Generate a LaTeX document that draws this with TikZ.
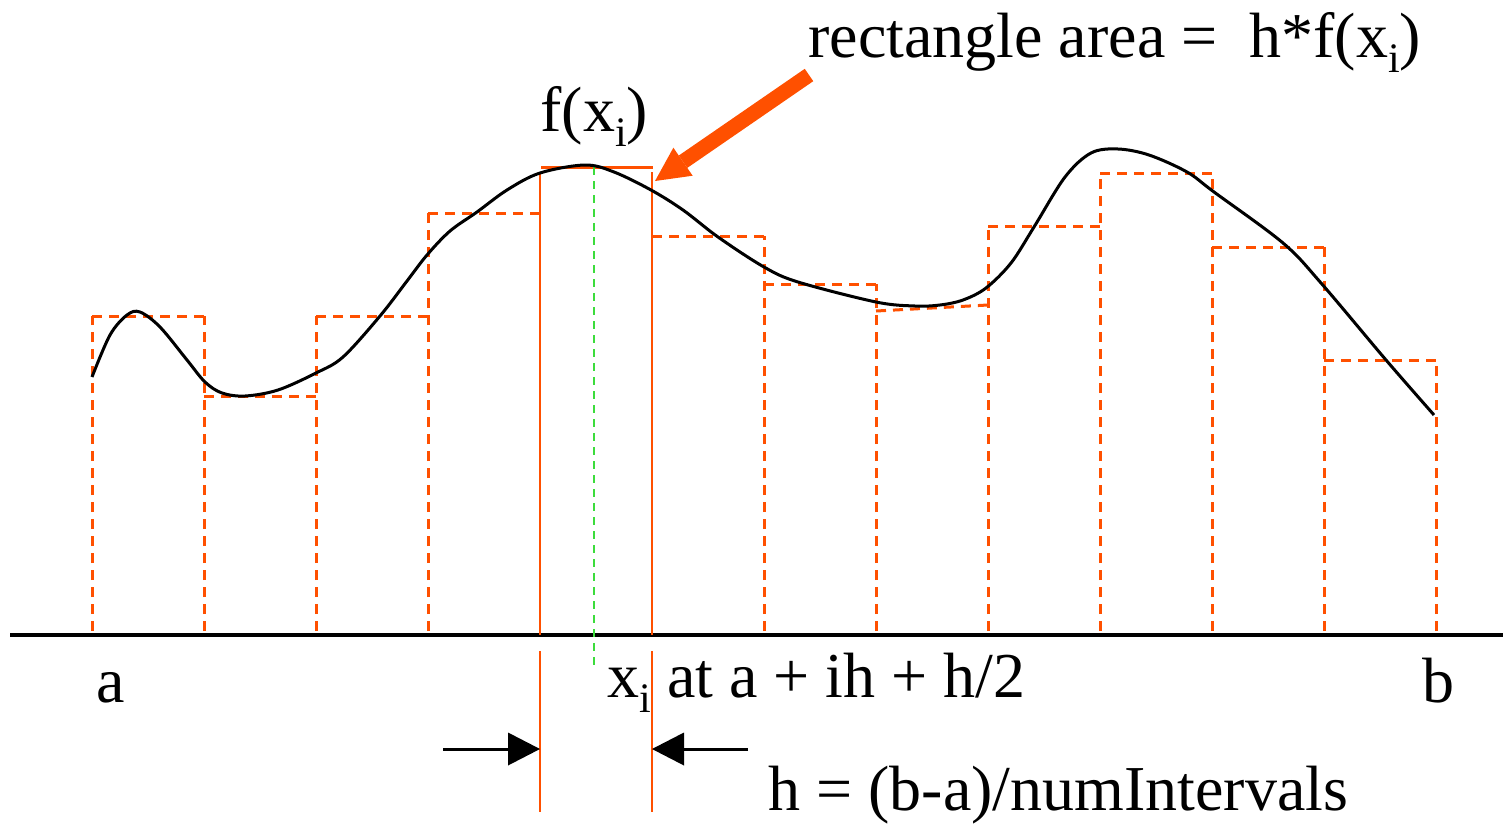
\documentclass[tikz,border=0pt]{standalone}
\usepackage{fontspec}
\setmainfont{Liberation Serif}
\usetikzlibrary{arrows.meta}
\definecolor{orng}{RGB}{255,80,0}
\definecolor{grn}{RGB}{60,220,60}
\newcommand\subi{\raisebox{-7.5pt}{\fontsize{21}{21}\selectfont i}}
\tikzset{
  lbl/.style={inner sep=0pt, font=\fontsize{32}{38}\selectfont},
  dashrect/.style={draw=orng, line width=1.5pt, dash pattern=on 5pt off 3.5pt},
  solidrect/.style={draw=orng, line width=1.1pt},
  midline/.style={draw=grn, line width=1pt, dash pattern=on 4pt off 3pt},
  curve/.style={draw=black, line width=1.5pt},
  axis/.style={draw=black, line width=1.6pt},
  bigarrow/.style={draw=orng, line width=7.5pt, -{Triangle[length=17pt,width=17pt,line width=0pt]}},
  harrow/.style={draw=black, line width=1.5pt, -{Triangle[length=16pt,width=16.5pt,line width=0pt]}}
}
\begin{document}
\begin{tikzpicture}[x=0.5pt,y=-0.5pt]
\useasboundingbox (0,0) rectangle (1503,825);
% axis
\coordinate (axL) at (10,635);
\coordinate (axR) at (1503,635);
\draw[axis] (axL) -- (axR);
% dashed verticals
\foreach \x/\t in {92/316,204/316,316/316,428/213,764/236,876/284,988/226,1100/173,1212/173,1324/247,1436/360}
  \draw[dashrect] (\x,631) -- (\x,\t);
% dashed tops
\foreach \a/\b/\t in {92/204/316,204/316/396,316/428/316,428/540/213,652/764/236,764/876/284,988/1100/226,1100/1212/173,1212/1324/247,1324/1436/360}
  \draw[dashrect] (\a,\t) -- (\b,\t);
\draw[dashrect] (876,311) -- (988,305);
% solid rectangle
\coordinate (r5tl) at (540,172);
\coordinate (r5tr) at (652,172);
\coordinate (r5bl) at (540,635);
\coordinate (r5br) at (652,635);
\coordinate (r5ll) at (540,651);
\coordinate (r5lr) at (652,651);
\coordinate (r5el) at (540,812);
\coordinate (r5er) at (652,812);
\draw[solidrect, line width=1.5pt] (541,167) -- (653,167);
\draw[solidrect] (r5tl) -- (r5bl);
\draw[solidrect] (r5tr) -- (r5br);
\draw[solidrect] (r5ll) -- (r5el);
\draw[solidrect] (r5lr) -- (r5er);
% midpoint line
\draw[midline] (594,167) -- (594,669);
% curve
\draw[curve] plot[smooth, tension=0.55] coordinates {
(92,377) (110,335) (127,315) (140,312) (160,327) (187,360) (205,382) (222,393) (245,396) (278,390) (316,373) (343,357) (380,316) (407,281) (427,255) (450,231) (477,212) (507,190) (540,173) (585,165) (614,172) (651,190) (683,210) (718,237) (764,267) (798,282) (876,302) (915,306) (940,305) (963,300) (986,288) (1011,263) (1034,227) (1065,177) (1091,153) (1118,149) (1149,155) (1187,172) (1214,192) (1283,243) (1321,283) (1386,360) (1434,415)};
% labels
\node[lbl, anchor=base west] (area) at (808,57) {rectangle area = ~h*f(x\subi)};
\node[lbl, anchor=base west] (fx) at (540,131) {f(x\subi)};
\node[lbl, anchor=base] (a) at (111,702) {a};
\node[lbl, anchor=base] (b) at (1438,702) {b};
\node[lbl, anchor=base west] (xi) at (607,697) {x\subi{} at a + ih + h/2};
\node[lbl, anchor=base west] (hdef) at (768,810) {h = (b-a)/numIntervals};
% big arrow
\coordinate (tail) at (809,75);
\coordinate (tip) at (655,181);
\draw[bigarrow] (tail) -- (tip);
% h arrows
\coordinate (hl0) at (443,749);
\coordinate (hl1) at (540,749);
\coordinate (hr0) at (748,749);
\coordinate (hr1) at (652,749);
\draw[harrow] (hl0) -- (hl1);
\draw[harrow] (hr0) -- (hr1);
\end{tikzpicture}
\end{document}
